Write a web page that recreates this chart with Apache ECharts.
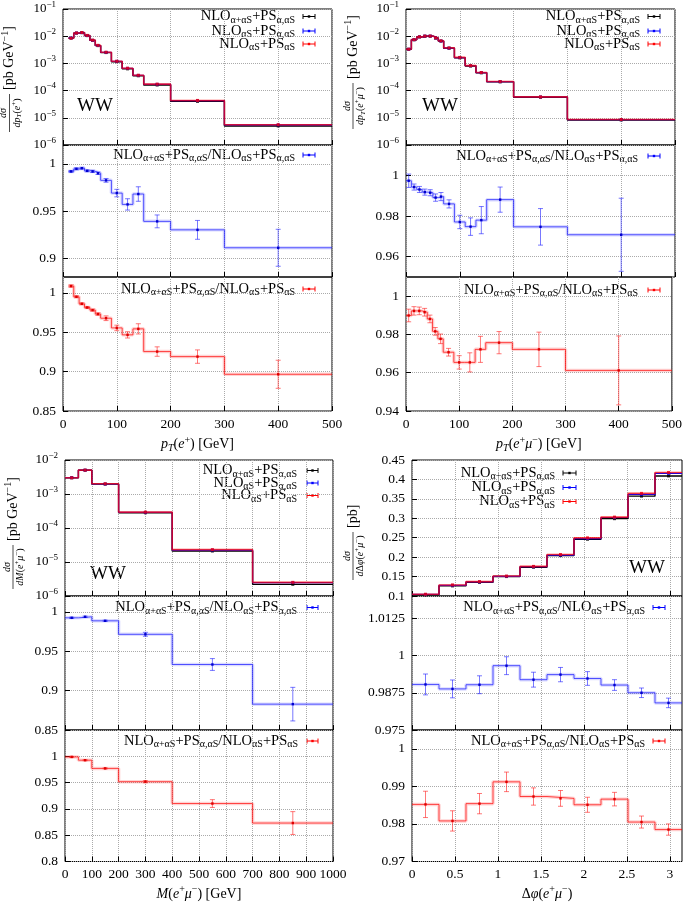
<!DOCTYPE html>
<html><head><meta charset="utf-8">
<script src="https://cdn.jsdelivr.net/npm/echarts@6/dist/echarts.min.js"></script>
<style>html,body{margin:0;padding:0;background:#fff}#c{width:685px;height:902px}</style>
</head><body><div id="c"></div><script>
// ---------- DATA ----------
// Panel A: pT(e+)
const ptE_edges   = [10,20,30,40,50,60,70,90,110,130,150,200,300,500];
const ptE_centers = [15,25,35,45,55,65,80,100,120,140,175,250,400];
const ptE_full    = [8.5e-3,1.3e-2,1.35e-2,1.05e-2,7.0e-3,4.5e-3,2.5e-3,1.15e-3,6.3e-4,3.5e-4,1.6e-4,4.0e-5,5.0e-6];
const ptE_qcdPsAll= [8.57e-3,1.307e-2,1.356e-2,1.058e-2,7.06e-3,4.55e-3,2.54e-3,1.19e-3,6.58e-4,3.62e-4,1.70e-4,4.30e-5,5.49e-6];
const ptE_qcdPsQcd= [8.43e-3,1.307e-2,1.369e-2,1.07e-2,7.16e-3,4.62e-3,2.58e-3,1.20e-3,6.66e-4,3.67e-4,1.73e-4,4.35e-5,5.58e-6];
const ptE_r1      = [0.992,0.9947,0.9954,0.9926,0.992,0.990,0.9825,0.969,0.957,0.968,0.939,0.930,0.911];
const ptE_r1Err   = [0.001,0.001,0.001,0.001,0.0012,0.0013,0.002,0.004,0.006,0.0077,0.0068,0.010,0.0196];
const ptE_r2      = [1.0085,0.9949,0.986,0.9813,0.978,0.973,0.9677,0.9554,0.9466,0.9542,0.9254,0.919,0.8966];
const ptE_r2Err   = [0.0015,0.0012,0.0012,0.0012,0.0013,0.0015,0.003,0.0035,0.004,0.0065,0.006,0.0085,0.0178];
// Panel B: pT(e+ mu-)
const ptEM_edges   = [0,10,20,30,40,50,60,70,90,110,130,150,200,300,500];
const ptEM_centers = [5,15,25,35,45,55,65,80,100,120,140,175,250,400];
const ptEM_full    = [3.3e-3,7.4e-3,9.4e-3,1.0e-2,1.0e-2,8.5e-3,6.6e-3,3.6e-3,1.6e-3,8.0e-4,4.5e-4,2.1e-4,5.7e-5,8.3e-6];
const ptEM_qcdPsAll= [3.31e-3,7.44e-3,9.47e-3,1.008e-2,1.009e-2,8.59e-3,6.67e-3,3.65e-3,1.64e-3,8.21e-4,4.60e-4,2.13e-4,5.85e-5,8.55e-6];
const ptEM_qcdPsQcd= [3.33e-3,7.46e-3,9.47e-3,1.008e-2,1.012e-2,8.66e-3,6.75e-3,3.71e-3,1.66e-3,8.29e-4,4.63e-4,2.15e-4,5.86e-5,8.64e-6];
const ptEM_r1      = [0.9974,0.9943,0.9931,0.9918,0.9915,0.9891,0.9896,0.9860,0.9771,0.9748,0.9780,0.9881,0.9747,0.9708];
const ptEM_r1Err   = [0.0033,0.0015,0.0015,0.0015,0.0015,0.0018,0.002,0.002,0.0033,0.0043,0.0067,0.0062,0.009,0.018];
const ptEM_r2      = [0.9899,0.9923,0.9923,0.9916,0.9881,0.9816,0.9777,0.9707,0.9654,0.9654,0.9722,0.9757,0.9722,0.9612];
const ptEM_r2Err   = [0.0033,0.0022,0.002,0.002,0.002,0.002,0.0025,0.002,0.0035,0.005,0.0068,0.0058,0.009,0.018];
// Panel C: M(e+ mu-)
const m_edges   = [0,50,100,200,400,700,1000];
const m_centers = [25,75,150,300,550,850];
const m_full    = [3.0e-3,5.0e-3,1.95e-3,2.8e-4,2.1e-5,2.2e-6];
const m_qcdPsAll= [3.02e-3,5.03e-3,1.97e-3,2.88e-4,2.25e-5,2.49e-6];
const m_qcdPsQcd= [3.0e-3,5.04e-3,2.0e-3,2.94e-4,2.31e-5,2.52e-6];
const m_r1      = [0.9923,0.9936,0.9885,0.9714,0.9331,0.8828];
const m_r1Err   = [0.0008,0.0008,0.0008,0.0025,0.0075,0.0213];
const m_r2      = [0.9988,0.9926,0.977,0.9517,0.9102,0.8731];
const m_r2Err   = [0.001,0.001,0.001,0.002,0.0074,0.0217];
// Panel D: delta phi(e+ mu-)
const phi_edges   = [0,0.3142,0.6283,0.9425,1.2566,1.5708,1.885,2.1991,2.5133,2.8274,3.1416];
const phi_centers = [0.1571,0.4712,0.7854,1.0996,1.4137,1.7279,2.042,2.3562,2.6704,2.9845];
const phi_full    = [0.103,0.126,0.135,0.150,0.174,0.204,0.246,0.299,0.357,0.409];
const phi_qcdPsAll= [0.1040,0.1274,0.1363,0.1505,0.1754,0.2053,0.2479,0.3020,0.3615,0.4156];
const phi_qcdPsQcd= [0.1045,0.1285,0.1370,0.1513,0.1762,0.2067,0.2497,0.3031,0.3641,0.4180];
const phi_r1      = [0.9903,0.9888,0.9902,0.9966,0.9919,0.9936,0.9923,0.9901,0.9875,0.9841];
const phi_r1Err   = [0.0035,0.003,0.003,0.003,0.0025,0.0024,0.0023,0.0018,0.0016,0.0016];
const phi_r2      = [0.9852,0.9808,0.9854,0.9912,0.9873,0.9868,0.9851,0.9866,0.9805,0.9785];
const phi_r2Err   = [0.0035,0.0027,0.0027,0.0026,0.0023,0.0021,0.002,0.0018,0.0016,0.0015];
// Tick values
const logTicks6to1 = [1e-6,1e-5,1e-4,1e-3,1e-2,1e-1];
const logTicks6to2 = [1e-6,1e-5,1e-4,1e-3,1e-2];
const ptTicks  = [0,100,200,300,400,500];
const mTicks   = [0,100,200,300,400,500,600,700,800,900,1000];
const phiTicks = [0,0.5,1,1.5,2,2.5,3];
const tA_r1Ticks = [0.9,0.95,1];
const tA_r2Ticks = [0.85,0.9,0.95,1];
const tB_r1Ticks = [0.96,0.98,1];
const tB_r2Ticks = [0.94,0.96,0.98,1];
const tC_r1Ticks = [0.85,0.9,0.95,1];
const tC_r2Ticks = [0.8,0.85,0.9,0.95,1];
const tD_mainTicks = [0.1,0.15,0.2,0.25,0.3,0.35,0.4,0.45];
const tD_r1Ticks = [0.975,0.9875,1,1.0125];
const tD_r2Ticks = [0.97,0.98,0.99,1];

// ---------- STYLE / HELPERS ----------
const FONT = "'Liberation Serif','DejaVu Serif',serif";
const richBase = {
  n:  {fontFamily: FONT, fontSize: 13, color:'#000'},
  i:  {fontFamily: FONT, fontSize: 13, fontStyle:'italic', color:'#000'},
  sb: {fontFamily: FONT, fontSize: 9, color:'#000', padding:[7,0,0,0]},
  sbi:{fontFamily: FONT, fontSize: 9, fontStyle:'italic', color:'#000', padding:[7,0,0,0]},
  sp: {fontFamily: FONT, fontSize: 9, color:'#000', padding:[0,0,9,0]}
};
const richLeg = {
  n:  {fontFamily: FONT, fontSize: 14.5, color:'#000'},
  sb: {fontFamily: FONT, fontSize: 10, color:'#000', padding:[7,0,0,0]}
};
const richTitle = {
  n:  {fontFamily: FONT, fontSize: 14, color:'#000'},
  i:  {fontFamily: FONT, fontSize: 14, fontStyle:'italic', color:'#000'},
  sbi:{fontFamily: FONT, fontSize: 10, fontStyle:'italic', color:'#000', padding:[7,0,0,0]},
  sp: {fontFamily: FONT, fontSize: 10, color:'#000', padding:[0,0,9,0]}
};
const fracRich = {
  n:  {fontFamily: FONT, fontSize: 10, color:'#000'},
  i:  {fontFamily: FONT, fontSize: 10, fontStyle:'italic', color:'#000'},
  sb: {fontFamily: FONT, fontSize: 7, fontStyle:'italic', color:'#000', padding:[5,0,0,0]},
  sp: {fontFamily: FONT, fontSize: 7, color:'#000', padding:[0,0,6,0]}
};
const fmtNum = v => String(parseFloat((+v).toFixed(4)));
const fmtLog = v => { const e = Math.round(Math.log10(v)); return '{n|10}{sp|' + (e<0?'−':'') + Math.abs(e) + '}'; };
const stepData = (edges, vals) => edges.map((e,i)=>[e, vals[Math.min(i, vals.length-1)]]);

const grids=[], xAxes=[], yAxes=[], series=[], graphics=[];
function addPanel(c){
  const g = grids.length;
  grids.push({left:c.left, top:c.top, width:c.width, height:c.height, show:true, borderColor:'#000', borderWidth:1, backgroundColor:'transparent'});
  xAxes.push({type:'value', gridIndex:g, min:c.xmin, max:c.xmax,
    axisLine:{show:false},
    axisTick:{show:true, inside:true, length:5, lineStyle:{color:'#000'}, customValues:c.xticks},
    axisLabel:{show:!!c.xlabels, customValues:c.xticks, margin:6, fontFamily:FONT, fontSize:13.5, color:'#000', formatter:fmtNum},
    splitLine:{show:true, lineStyle:{color:'#aaa', type:'dotted', width:1}},
    name:c.xname||'', nameLocation:'middle', nameGap:c.nameGap||24, nameTextStyle:{rich:richTitle}
  });
  yAxes.push({type:c.log?'log':'value', logBase:10, gridIndex:g, min:c.ymin, max:c.ymax,
    axisLine:{show:false},
    axisTick:{show:true, inside:true, length:5, lineStyle:{color:'#000'}, customValues:c.yticks},
    axisLabel:{show:true, customValues:c.yticks, margin:7, fontFamily:FONT, fontSize:13.5, color:'#000',
      formatter:c.log?fmtLog:fmtNum, rich:richBase},
    splitLine:{show:true, lineStyle:{color:'#aaa', type:'dotted', width:1}}
  });
  return g;
}
function stepLine(g, edges, vals, color, width, z){
  series.push({type:'line', xAxisIndex:g, yAxisIndex:g, step:'end', data:stepData(edges, vals), showSymbol:false, silent:true,
    lineStyle:{color:color, width:width}, z:z, animation:false});
}
function dots(g, centers, vals, color, z){
  series.push({type:'scatter', xAxisIndex:g, yAxisIndex:g, data:centers.map((c,i)=>[c, vals[i]]), symbol:'rect', symbolSize:3,
    itemStyle:{color:color}, z:z, animation:false, silent:true});
}
function errBars(g, centers, vals, errs, color, dotColor){
  series.push({type:'custom', xAxisIndex:g, yAxisIndex:g, z:6, animation:false, silent:true,
    data:centers.map((c,i)=>[c, vals[i], vals[i]-errs[i], vals[i]+errs[i]]),
    renderItem:(params, api)=>{
      const p = api.coord([api.value(0), api.value(1)]);
      const lo = api.coord([api.value(0), api.value(2)]);
      const hi = api.coord([api.value(0), api.value(3)]);
      const cw = 2.5;
      return {type:'group', children:[
        {type:'line', shape:{x1:p[0], y1:lo[1], x2:p[0], y2:hi[1]}, style:{stroke:color, lineWidth:1}},
        {type:'line', shape:{x1:p[0]-cw, y1:lo[1], x2:p[0]+cw, y2:lo[1]}, style:{stroke:color, lineWidth:1}},
        {type:'line', shape:{x1:p[0]-cw, y1:hi[1], x2:p[0]+cw, y2:hi[1]}, style:{stroke:color, lineWidth:1}},
        {type:'rect', shape:{x:p[0]-1.2, y:p[1]-1.2, width:2.4, height:2.4}, style:{fill:dotColor}}
      ]};
    }});
}
function mainSeries(g, edges, centers, a, b, c){
  stepLine(g, edges, a, '#000', 1.4, 2);
  stepLine(g, edges, b, '#0000ff', 1.2, 3);
  stepLine(g, edges, c, 'rgba(255,0,0,0.75)', 1.6, 4);
  dots(g, centers, a, '#000', 5);
  dots(g, centers, b, '#0000ff', 6);
  dots(g, centers, c, '#ff0000', 7);
}
function ratioSeries(g, edges, centers, vals, errs, kind){
  const band = kind==='b' ? 'rgba(60,60,255,0.18)' : 'rgba(255,60,60,0.22)';
  const line = kind==='b' ? 'rgba(30,30,255,0.75)' : 'rgba(255,0,0,0.7)';
  const eb   = kind==='b' ? 'rgba(30,30,255,0.6)' : 'rgba(255,30,30,0.6)';
  const dc   = kind==='b' ? '#0000cc' : '#dd0000';
  stepLine(g, edges, vals, band, 3.5, 2);
  stepLine(g, edges, vals, line, 1, 3);
  errBars(g, centers, vals, errs, eb, dc);
}
function legendRow(xr, y, label, color, sx, sw){
  graphics.push({type:'text', x:xr, y:y, style:{text:label, rich:richLeg, align:'right', verticalAlign:'middle', textAlign:'right', textVerticalAlign:'middle'}});
  graphics.push({type:'group', children:[
    {type:'line', shape:{x1:sx, y1:y, x2:sx+sw, y2:y}, style:{stroke:color, lineWidth:1}},
    {type:'line', shape:{x1:sx, y1:y-2.5, x2:sx, y2:y+2.5}, style:{stroke:color, lineWidth:1}},
    {type:'line', shape:{x1:sx+sw, y1:y-2.5, x2:sx+sw, y2:y+2.5}, style:{stroke:color, lineWidth:1}},
    {type:'rect', shape:{x:sx+sw/2-1.2, y:y-1.2, width:2.4, height:2.4}, style:{fill:color}}
  ]});
}
function yTitle(cx, cy, denom, rest, halfW){
  graphics.push({type:'group', x:cx, y:cy, rotation:Math.PI/2, children:[
    {type:'text', x:0, y:-1, style:{text:'{i|dσ}', rich:fracRich, align:'center', verticalAlign:'bottom', textAlign:'center', textVerticalAlign:'bottom'}},
    {type:'line', shape:{x1:-halfW, y1:0, x2:halfW, y2:0}, style:{stroke:'#000', lineWidth:0.7}},
    {type:'text', x:0, y:1, style:{text:denom, rich:fracRich, align:'center', verticalAlign:'top', textAlign:'center', textVerticalAlign:'top'}},
    {type:'text', x:halfW+4, y:0, style:{text:rest, rich:richTitle, align:'left', verticalAlign:'middle', textAlign:'left', textVerticalAlign:'middle'}}
  ]});
}
function ww(x, y){
  graphics.push({type:'text', x:x, y:y, style:{text:'WW', font:'19px '+FONT, fontFamily:FONT, fontSize:19, fill:'#000', align:'center', verticalAlign:'middle', textAlign:'center', textVerticalAlign:'middle'}});
}
const L1 = '{n|NLO}{sb|α+αS}{n|+PS}{sb|α,αS}';
const L2 = '{n|NLO}{sb|αS}{n|+PS}{sb|α,αS}';
const L3 = '{n|NLO}{sb|αS}{n|+PS}{sb|αS}';
const R1 = '{n|NLO}{sb|α+αS}{n|+PS}{sb|α,αS}{n|/NLO}{sb|αS}{n|+PS}{sb|α,αS}';
const R2 = '{n|NLO}{sb|α+αS}{n|+PS}{sb|α,αS}{n|/NLO}{sb|αS}{n|+PS}{sb|αS}';

// ---------- PANELS ----------
let g;
// A (top-left)
g = addPanel({left:63, top:7, width:269, height:138, xmin:0, xmax:500, xticks:ptTicks, log:true, ymin:1e-6, ymax:1e-1, yticks:logTicks6to1});
mainSeries(g, ptE_edges, ptE_centers, ptE_full, ptE_qcdPsAll, ptE_qcdPsQcd);
g = addPanel({left:63, top:145, width:269, height:132, xmin:0, xmax:500, xticks:ptTicks, ymin:0.88, ymax:1.02, yticks:tA_r1Ticks});
ratioSeries(g, ptE_edges, ptE_centers, ptE_r1, ptE_r1Err, 'b');
g = addPanel({left:63, top:277, width:269, height:134, xmin:0, xmax:500, xticks:ptTicks, xlabels:true, ymin:0.85, ymax:1.02, yticks:tA_r2Ticks,
  xname:'{i|p}{sbi|T}{n|(}{i|e}{sp|+}{n|) [GeV]}', nameGap:24});
ratioSeries(g, ptE_edges, ptE_centers, ptE_r2, ptE_r2Err, 'r');
// B (top-right)
g = addPanel({left:406, top:7, width:269, height:138, xmin:0, xmax:500, xticks:ptTicks, log:true, ymin:1e-6, ymax:1e-1, yticks:logTicks6to1});
mainSeries(g, ptEM_edges, ptEM_centers, ptEM_full, ptEM_qcdPsAll, ptEM_qcdPsQcd);
g = addPanel({left:406, top:145, width:269, height:132, xmin:0, xmax:500, xticks:ptTicks, ymin:0.95, ymax:1.015, yticks:tB_r1Ticks});
ratioSeries(g, ptEM_edges, ptEM_centers, ptEM_r1, ptEM_r1Err, 'b');
g = addPanel({left:406, top:277, width:269, height:134, xmin:0, xmax:500, xticks:ptTicks, xlabels:true, ymin:0.94, ymax:1.01, yticks:tB_r2Ticks,
  xname:'{i|p}{sbi|T}{n|(}{i|e}{sp|+}{i|μ}{sp|−}{n|) [GeV]}', nameGap:24});
ratioSeries(g, ptEM_edges, ptEM_centers, ptEM_r2, ptEM_r2Err, 'r');
// C (bottom-left)
g = addPanel({left:65, top:460, width:268, height:136, xmin:0, xmax:1000, xticks:mTicks, log:true, ymin:1e-6, ymax:1e-2, yticks:logTicks6to2});
mainSeries(g, m_edges, m_centers, m_full, m_qcdPsAll, m_qcdPsQcd);
g = addPanel({left:65, top:596, width:268, height:134, xmin:0, xmax:1000, xticks:mTicks, ymin:0.85, ymax:1.02, yticks:tC_r1Ticks});
ratioSeries(g, m_edges, m_centers, m_r1, m_r1Err, 'b');
g = addPanel({left:65, top:730, width:268, height:133, xmin:0, xmax:1000, xticks:mTicks, xlabels:true, ymin:0.8, ymax:1.05, yticks:tC_r2Ticks,
  xname:'{i|M}{n|(}{i|e}{sp|+}{i|μ}{sp|−}{n|) [GeV]}', nameGap:23});
ratioSeries(g, m_edges, m_centers, m_r2, m_r2Err, 'r');
// D (bottom-right)
g = addPanel({left:412, top:460, width:270, height:136, xmin:0, xmax:Math.PI, xticks:phiTicks, ymin:0.1, ymax:0.45, yticks:tD_mainTicks});
mainSeries(g, phi_edges, phi_centers, phi_full, phi_qcdPsAll, phi_qcdPsQcd);
g = addPanel({left:412, top:596, width:270, height:134, xmin:0, xmax:Math.PI, xticks:phiTicks, ymin:0.975, ymax:1.02, yticks:tD_r1Ticks});
ratioSeries(g, phi_edges, phi_centers, phi_r1, phi_r1Err, 'b');
g = addPanel({left:412, top:730, width:270, height:133, xmin:0, xmax:Math.PI, xticks:phiTicks, xlabels:true, ymin:0.97, ymax:1.005, yticks:tD_r2Ticks,
  xname:'{n|Δ}{i|φ}{n|(}{i|e}{sp|+}{i|μ}{sp|−}{n|)}', nameGap:23});
ratioSeries(g, phi_edges, phi_centers, phi_r2, phi_r2Err, 'r');

// ---------- LEGENDS / LABELS ----------
[[L1,'#000'],[L2,'#0000ff'],[L3,'#ff0000']].forEach((e,i)=>{
  legendRow(295, [16.5,31,44][i], e[0], e[1], 303, 12);
  legendRow(640, [16.5,31,44][i], e[0], e[1], 648, 12);
  legendRow(297, [470.5,483,495.5][i], e[0], e[1], 307, 11);
  legendRow(555, [473,487.5,501.5][i], e[0], e[1], 563, 13);
});
legendRow(295, 155, R1, '#0000ff', 303, 12);
legendRow(295, 289, R2, '#ff0000', 303, 12);
legendRow(638, 156, R1, '#0000ff', 648, 12);
legendRow(638, 290, R2, '#ff0000', 648, 12);
legendRow(297, 607.5, R1, '#0000ff', 307, 11);
legendRow(298, 741, R2, '#ff0000', 307, 11);
legendRow(645, 607.5, R1, '#0000ff', 653, 12);
legendRow(645, 741, R2, '#ff0000', 653, 12);

ww(95, 106); ww(440, 106); ww(108, 574); ww(647, 568);

yTitle(9.5, 113, '{i|dp}{sb|T}{n|(}{i|e}{sp|+}{n|)}', '{n|[pb GeV}{sp|−1}{n|]}', 19);
yTitle(353, 106, '{i|dp}{sb|T}{n|(}{i|e}{sp|+}{i|μ}{sp|−}{n|)}', '{n|[pb GeV}{sp|−1}{n|]}', 23);
yTitle(13, 567, '{i|dM}{n|(}{i|e}{sp|+}{i|μ}{sp|−}{n|)}', '{n|[pb GeV}{sp|−1}{n|]}', 22);
yTitle(353, 556, '{i|d}{n|Δ}{i|φ}{n|(}{i|e}{sp|+}{i|μ}{sp|−}{n|)}', '{n|[pb]}', 24);

const chart = echarts.init(document.getElementById('c'), null, {renderer:'canvas', width:685, height:902});
chart.setOption({animation:false, backgroundColor:'#fff', grid:grids, xAxis:xAxes, yAxis:yAxes, series:series, graphic:graphics});
</script></body></html>
